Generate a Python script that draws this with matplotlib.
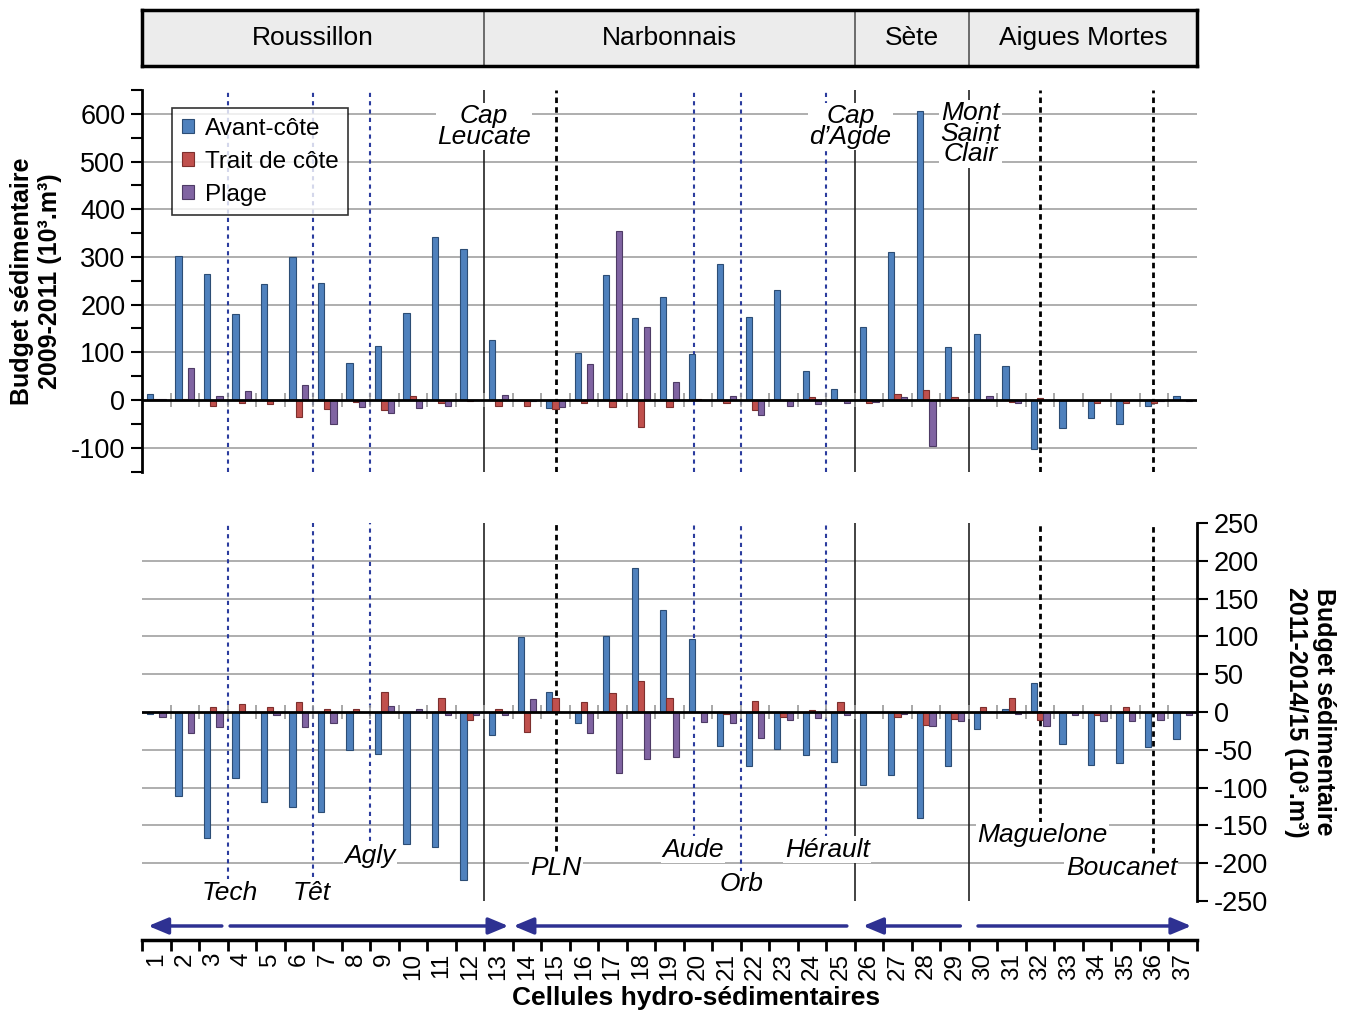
import matplotlib
matplotlib.use("Agg")
import matplotlib.pyplot as plt
import numpy as np
from matplotlib.patches import Patch, FancyArrowPatch
from matplotlib.ticker import MultipleLocator, FixedLocator, NullFormatter

plt.rcParams["font.family"] = ["Liberation Sans", "DejaVu Sans"]
plt.rcParams["axes.unicode_minus"] = False

# --- data -------------------------------------------------------------
cells = np.arange(1, 38)

# budget 2009-2011 (10^3 m^3)
avant_0911 = [13, 302, 265, 180, 243, 300, 245, 78, 114, 182, 341, 316, 126,
              0, -17, 99, 263, 172, 216, 96, 286, 173, 231, 61, 22,
              152, 310, 606, 112,
              139, 71, -103, -59, -38, -51, -13, 8]
trait_0911 = [1, 1, -13, -6, -9, -35, -19, -4, -21, 8, -7, -2, -13,
              -13, -19, -7, -15, -56, -15, 3, -7, -21, 0, 6, 0,
              -7, 13, 20, 6,
              -1, -5, 4, 0, -7, -7, -7, 0]
plage_0911 = [3, 68, 9, 18, 0, 31, -50, -15, -27, -17, -13, 0, 10,
              -3, -15, 75, 354, 152, 38, 0, 9, -31, -13, -9, -7,
              -5, 7, -96, 0,
              9, -7, 0, 0, 0, 0, -3, -3]

# budget 2011-2014/15 (10^3 m^3)
avant_1114 = [-3, -111, -167, -87, -119, -126, -132, -50, -55, -175, -179, -222, -30,
              99, 26, -15, 100, 190, 135, 96, -45, -71, -49, -57, -66,
              -96, -83, -140, -72,
              -23, 4, 38, -42, -70, -68, -46, -36]
trait_1114 = [0, 0, 7, 10, 6, 13, 4, 4, 27, 0, 18, -10, 4,
              -26, 18, 13, 25, 41, 18, 0, -3, 15, -6, 2, 13,
              0, -6, -17, -9,
              6, 19, -10, 0, -4, 6, 0, 0]
plage_1114 = [-6, -28, -20, 0, -4, -20, -14, 0, 8, 4, -4, -4, -4,
              17, 0, -28, -81, -62, -59, -13, -15, -35, -10, -8, -4,
              0, -2, -19, -12,
              0, -2, -19, -4, -12, -12, -10, -4]

series_names = ["Avant-côte", "Trait de côte", "Plage"]
regions = ["Roussillon", "Narbonnais", "Sète", "Aigues Mortes"]
region_bounds = [0.5, 12.5, 25.5, 29.5, 37.5]

# rivers (blue dotted) and other limits (black dashed): position, label, label pos, line end (bottom panel)
rivers = [(3.52, "Tech", 3.59, -239, -222), (6.5, "Têt", 6.46, -239, -218),
          (8.5, "Agly", 8.5, -191, -171), (19.87, "Aude", 19.83, -182, -167),
          (21.52, "Orb", 21.52, -228, -212), (24.5, "Hérault", 24.53, -182, -167)]
limits = [(15.03, "PLN", 15.03, -207, -184), (32.0, "Maguelone", 32.08, -163, -147),
          (35.97, "Boucanet", 34.85, -206, -186)]
capes = [(12.5, "Cap\nLeucate", 574), (25.35, "Cap\nd’Agde", 574),
         (29.55, "Mont\nSaint\nClair", 558)]

# drift direction arrows (tail, head)
drift = [(3.3, 0.72), (3.59, 13.35), (25.22, 13.53), (29.2, 25.79), (29.82, 37.3)]

colors = ["#4f81bd", "#c0504d", "#8064a2"]
edges = ["#2c4d75", "#7d2f2d", "#4e3b66"]
grid_c = "#a8a8a8"
river_c = "#2b3c9e"
arrow_c = "#2e3192"

W, H = 1351, 1014
fig = plt.figure(figsize=(W / 100, H / 100), dpi=100)
L, AW = 142 / W, 1055 / W


def fy(px):
    return 1 - px / H


ax_top = fig.add_axes([L, fy(471.5), AW, 381.5 / H])
ax_bot = fig.add_axes([L, fy(901), AW, 378 / H])
ax_head = fig.add_axes([L, fy(66), AW, 56 / H])
ax_strip = fig.add_axes([L, fy(940), AW, 30 / H])

bw = 0.22
offsets = [-bw, 0, bw]


def draw_bars(ax, data, tick_half):
    for vals, off, c, ec in zip(data, offsets, colors, edges):
        ax.bar(cells + off, vals, width=bw, color=c, edgecolor=ec,
               linewidth=0.8, zorder=3)
    ax.axhline(0, color="black", lw=2, zorder=4)
    ax.vlines(np.arange(1.5, 37), -tick_half, tick_half, color="#999999",
              lw=1.2, zorder=2)
    for b in region_bounds[1:-1]:
        ax.axvline(b, color="#222222", lw=1.2, zorder=1.5)
    ax.set_xlim(0.5, 37.5)
    ax.set_xticks([])
    for s in ["top", "bottom", "left", "right"]:
        ax.spines[s].set_visible(False)


# --- top panel: 2009-2011 ---
draw_bars(ax_top, [avant_0911, trait_0911, plage_0911], 14.7)
ax_top.set_ylim(-150, 650)
for g in range(-100, 601, 100):
    if g != 0:
        ax_top.axhline(g, color=grid_c, lw=1.3, zorder=0)
ax_top.spines["left"].set_visible(True)
ax_top.spines["left"].set_linewidth(2)
ax_top.yaxis.set_major_locator(FixedLocator(range(-100, 601, 100)))
ax_top.yaxis.set_minor_locator(FixedLocator(range(-150, 651, 100)))
ax_top.tick_params(axis="y", which="both", length=8, width=1.5,
                   direction="out", labelsize=19.5, pad=4)
for x, *_ in rivers:
    ax_top.axvline(x, color=river_c, lw=1.5, ls=(0, (2, 2)), zorder=1.5)
for x, *_ in limits:
    ax_top.axvline(x, color="black", lw=2, ls=(0, (2, 1.5)), zorder=1.5)
for x, txt, y in capes:
    ax_top.text(x, y, txt, ha="center", va="center", fontsize=19,
                style="italic", linespacing=0.82, zorder=6,
                bbox=dict(facecolor="white", edgecolor="none", pad=1))

handles = [Patch(facecolor=c, edgecolor=ec, lw=0.8) for c, ec in zip(colors, edges)]
leg = ax_top.legend(handles, series_names, loc="upper left",
                    bbox_to_anchor=(0.0284, 0.9528), fontsize=17.5,
                    frameon=True, fancybox=False, edgecolor="black",
                    handlelength=0.5, handleheight=0.5, handletextpad=0.45,
                    labelspacing=0.45, borderpad=0.4, borderaxespad=0)
leg.get_frame().set_linewidth(1.2)
leg.set_zorder(7)

# --- bottom panel: 2011-2014/15 ---
draw_bars(ax_bot, [avant_1114, trait_1114, plage_1114], 9.3)
ax_bot.set_ylim(-250, 250)
for g in range(-200, 201, 50):
    if g != 0:
        ax_bot.axhline(g, color=grid_c, lw=1.3, zorder=0)
ax_bot.spines["right"].set_visible(True)
ax_bot.spines["right"].set_linewidth(2)
ax_bot.yaxis.tick_right()
ax_bot.yaxis.set_major_locator(MultipleLocator(50))
ax_bot.tick_params(axis="y", length=8, width=1.5, direction="out",
                   labelsize=19.5, pad=4)
for x, txt, tx, ty, yend in rivers:
    ax_bot.vlines(x, yend, 250, color=river_c, lw=1.5, ls=(0, (2, 2)), zorder=1.5)
    ax_bot.text(tx, ty, txt, ha="center", va="center", fontsize=19,
                style="italic", zorder=6,
                bbox=dict(facecolor="white", edgecolor="none", pad=1))
for x, txt, tx, ty, yend in limits:
    ax_bot.vlines(x, yend, 250, color="black", lw=2, ls=(0, (2, 1.5)), zorder=1.5)
    ax_bot.text(tx, ty, txt, ha="center", va="center", fontsize=19,
                style="italic", zorder=6,
                bbox=dict(facecolor="white", edgecolor="none", pad=1))

# --- header with coastal regions ---
ax_head.set_xlim(0.5, 37.5)
ax_head.set_ylim(0, 1)
ax_head.set_facecolor("#ececec")
ax_head.set_xticks([])
ax_head.set_yticks([])
for s in ax_head.spines.values():
    s.set_linewidth(2.5)
for b in region_bounds[1:-1]:
    ax_head.axvline(b, color="#555555", lw=1.2)
for name, a, b in zip(regions, region_bounds[:-1], region_bounds[1:]):
    ax_head.text((a + b) / 2, 0.5, name, ha="center", va="center", fontsize=19)

# --- cell axis with drift arrows ---
ax_strip.set_xlim(0.5, 37.5)
ax_strip.set_ylim(0, 1)
for s in ["top", "left", "right"]:
    ax_strip.spines[s].set_visible(False)
ax_strip.spines["bottom"].set_linewidth(2.5)
ax_strip.set_yticks([])
ax_strip.xaxis.set_major_locator(FixedLocator(np.arange(0.5, 38, 1)))
ax_strip.xaxis.set_major_formatter(NullFormatter())
ax_strip.xaxis.set_minor_locator(FixedLocator(cells))
ax_strip.set_xticklabels([str(c) for c in cells], minor=True, rotation=90)
ax_strip.tick_params(axis="x", which="major", length=8, width=2, direction="out")
ax_strip.tick_params(axis="x", which="minor", length=0, labelsize=17.5, pad=9)
ax_strip.patch.set_alpha(0)
for tail, head in drift:
    ax_strip.add_patch(FancyArrowPatch((tail, 0.467), (head, 0.467),
                                       arrowstyle="-|>,head_length=0.6,head_width=0.25",
                                       mutation_scale=20, lw=2.5, color=arrow_c,
                                       shrinkA=0, shrinkB=0))

fig.text(696 / W, fy(998), "Cellules hydro-sédimentaires", ha="center",
         va="center", fontsize=19, fontweight="bold")
fig.text(36 / W, fy(281), "Budget sédimentaire\n2009-2011 (10³.m³)",
         rotation=90, ha="center", va="center", fontsize=18,
         fontweight="bold", linespacing=1.25)
fig.text(1310 / W, fy(712), "Budget sédimentaire\n2011-2014/15 (10³.m³)",
         rotation=270, ha="center", va="center", fontsize=18,
         fontweight="bold", linespacing=1.25)

fig.savefig("out.png", dpi=100)
